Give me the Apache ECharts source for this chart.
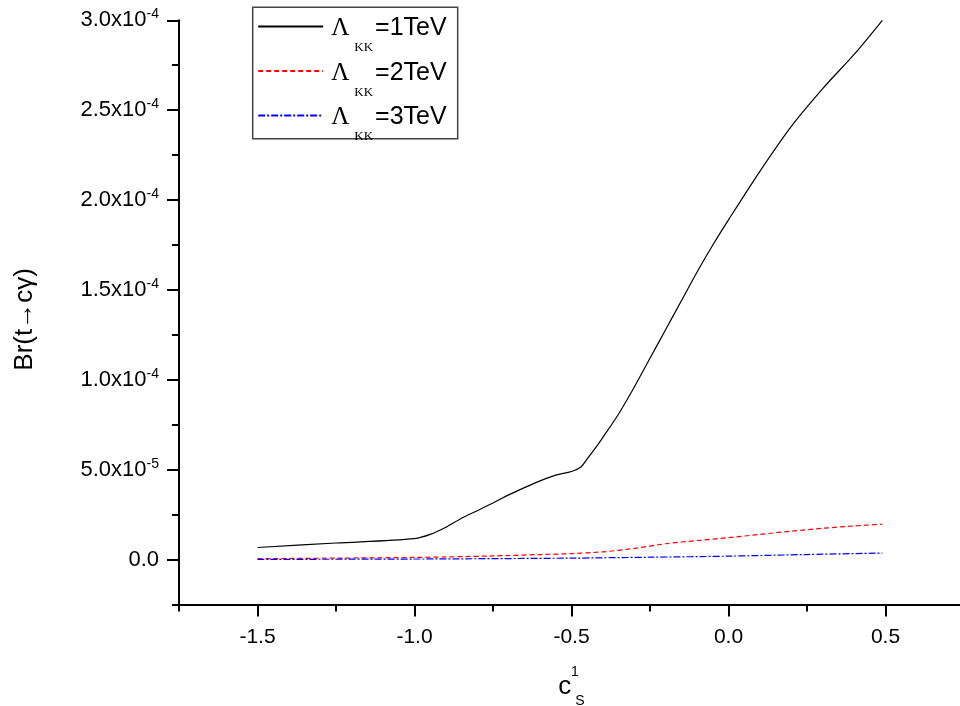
<!DOCTYPE html>
<html>
<head>
<meta charset="utf-8">
<script src="https://cdn.jsdelivr.net/npm/echarts@6/dist/echarts.min.js"></script>
<style>html,body{margin:0;padding:0;background:#fff;}#c{width:960px;height:706px;}</style>
</head>
<body>
<div id="c"></div>
<script>
// ---- data ----
const seriesNames = ['\u039BKK=1TeV', '\u039BKK=2TeV', '\u039BKK=3TeV'];
const xMajorTicks = [-1.5, -1.0, -0.5, 0.0, 0.5];
const yMajorTicks = [0, 5e-5, 1e-4, 1.5e-4, 2e-4, 2.5e-4, 3e-4];

const x1 = [-1.5, -1.25, -1.0, -0.95, -0.9, -0.85, -0.8, -0.75, -0.7, -0.65, -0.6, -0.55, -0.5, -0.47, -0.45, -0.42, -0.4, -0.35, -0.3, -0.25, -0.2, -0.15, -0.1, -0.05, 0.0, 0.1, 0.2, 0.3, 0.4, 0.49];
const y1 = [6.7e-6, 9.2e-6, 1.17e-5, 1.4e-5, 1.8e-5, 2.3e-5, 2.72e-5, 3.15e-5, 3.6e-5, 4.0e-5, 4.38e-5, 4.7e-5, 4.9e-5, 5.15e-5, 5.6e-5, 6.3e-5, 6.8e-5, 8.1e-5, 9.6e-5, 1.12e-4, 1.28e-4, 1.44e-4, 1.6e-4, 1.75e-4, 1.89e-4, 2.16e-4, 2.41e-4, 2.62e-4, 2.81e-4, 3.0e-4];

const x2 = [-1.5, -1.25, -1.0, -0.75, -0.6, -0.5, -0.4, -0.3, -0.2, -0.1, 0.0, 0.1, 0.2, 0.3, 0.4, 0.49];
const y2 = [5e-7, 8e-7, 1.2e-6, 2.0e-6, 2.8e-6, 3.3e-6, 4.3e-6, 6.2e-6, 8.8e-6, 1.06e-5, 1.22e-5, 1.4e-5, 1.58e-5, 1.74e-5, 1.87e-5, 1.97e-5];

const x3 = [-1.5, -1.0, -0.5, -0.25, 0.0, 0.25, 0.49];
const y3 = [1e-7, 3e-7, 8e-7, 1.3e-6, 1.9e-6, 2.8e-6, 3.6e-6];

// ---- chart ----
const pair = (xs, ys) => xs.map((x, i) => [x, ys[i]]);
const chart = echarts.init(document.getElementById('c'), null, {renderer: 'canvas'});

function yLabel(v) {
  if (Math.abs(v) < 1e-12) return '{n|0.0}';
  const e = Math.floor(Math.log10(Math.abs(v)) + 1e-9);
  const m = v / Math.pow(10, e);
  return '{n|' + m.toFixed(1) + 'x10}{e|' + e + '}';
}

const axisLineStyle = {color: '#000', width: 2};
const font = 'Liberation Sans, Arial, sans-serif';

const option = {
  animation: false,
  backgroundColor: '#fff',
  textStyle: {fontFamily: font, color: '#000'},
  grid: {left: 179, top: 20.3, right: -4, bottom: 101.5, containLabel: false, outerBoundsMode: 'none'},
  legend: {
    left: 252.7, top: 7.3, orient: 'vertical',
    padding: [4.7, 11, -4.7, 4.5],
    itemWidth: 65, itemHeight: 14, itemGap: 2,
    borderColor: '#444', borderWidth: 1.5,
    itemStyle: {opacity: 0, borderWidth: 0},
    data: seriesNames,
    formatter: function (name) {
      return '{L|\u039B}{s|KK}{t|' + name.slice(3) + '}';
    },
    textStyle: {
      rich: {
        L: {fontFamily: 'Liberation Serif, serif', fontSize: 25, lineHeight: 46, padding: [4, 0, 0, 3], verticalAlign: 'middle', color: '#000'},
        s: {fontFamily: 'Liberation Serif, serif', fontSize: 13, lineHeight: 12, padding: [0, 0, -5, 5], verticalAlign: 'bottom', color: '#000'},
        t: {fontFamily: font, fontSize: 25, lineHeight: 46, padding: [4, 0, 0, 2], verticalAlign: 'middle', color: '#000'}
      }
    }
  },
  xAxis: [{
    type: 'value', min: -1.75, max: 0.75, interval: 0.25, position: 'bottom',
    axisLine: {onZero: false, lineStyle: axisLineStyle},
    axisTick: {length: 7, lineStyle: {width: 2, color: '#000'}},
    axisLabel: {customValues: xMajorTicks, fontSize: 21, margin: 22, color: '#000',
      formatter: v => v.toFixed(1)},
    splitLine: {show: false},
    name: '{c|c}{p|1}{s|S}', nameLocation: 'middle', nameGap: 61,
    nameTextStyle: {
      rich: {
        c: {fontFamily: font, fontSize: 26, lineHeight: 42, verticalAlign: 'middle', color: '#000'},
        p: {fontFamily: font, fontSize: 14, lineHeight: 14, padding: [0, 0, 0, 3], verticalAlign: 'top', width: 1, color: '#000'},
        s: {fontFamily: font, fontSize: 14, lineHeight: 9, padding: [0, 0, -1, 0], verticalAlign: 'bottom', color: '#000'}
      }
    }
  }, {
    type: 'value', min: -1.75, max: 0.75, position: 'bottom', offset: 0,
    axisLine: {show: false, onZero: false},
    axisTick: {customValues: xMajorTicks, length: 12, lineStyle: {width: 2, color: '#000'}},
    axisLabel: {show: false},
    splitLine: {show: false}
  }],
  yAxis: [{
    type: 'value', min: -2.5e-5, max: 3e-4, interval: 2.5e-5, position: 'left',
    axisLine: {onZero: false, lineStyle: axisLineStyle},
    axisTick: {length: 7, lineStyle: {width: 2, color: '#000'}},
    axisLabel: {customValues: yMajorTicks, margin: 20, formatter: yLabel,
      rich: {
        n: {fontFamily: font, fontSize: 22, lineHeight: 26, verticalAlign: 'middle', color: '#000'},
        e: {fontFamily: font, fontSize: 14, lineHeight: 14, verticalAlign: 'top', color: '#000'}
      }},
    splitLine: {show: false},
    name: 'Br(t\u2192c\u03B3)', nameLocation: 'middle', nameRotate: 90, nameGap: 141,
    nameTextStyle: {fontFamily: font, fontSize: 26, color: '#000', padding: [0, 14, 0, 0]}
  }, {
    type: 'value', min: -2.5e-5, max: 3e-4, position: 'left', offset: 0,
    axisLine: {show: false, onZero: false},
    axisTick: {customValues: yMajorTicks, length: 12, lineStyle: {width: 2, color: '#000'}},
    axisLabel: {show: false},
    splitLine: {show: false}
  }],
  series: [{
    name: seriesNames[0], type: 'line', data: pair(x1, y1), symbol: 'none',
    smooth: 0.3,
    lineStyle: {color: '#000', width: 1.2, type: 'solid'}, itemStyle: {color: '#000'}
  }, {
    name: seriesNames[1], type: 'line', data: pair(x2, y2), symbol: 'none',
    smooth: 0.3,
    lineStyle: {color: '#ff0000', width: 1.2, type: [5, 3]}, itemStyle: {color: '#ff0000'}
  }, {
    name: seriesNames[2], type: 'line', data: pair(x3, y3), symbol: 'none',
    smooth: 0.3,
    lineStyle: {color: '#0000ff', width: 1.2, type: [7, 2, 2, 2]}, itemStyle: {color: '#0000ff'}
  }]
};
chart.setOption(option);
</script>
</body>
</html>
